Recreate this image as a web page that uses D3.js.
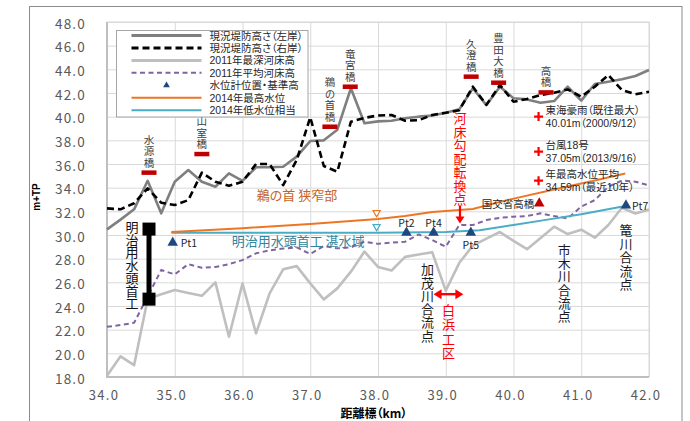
<!DOCTYPE html>
<html>
<head>
<meta charset="utf-8">
<script src="https://cdn.jsdelivr.net/npm/d3@7"></script>
<style>
  html, body { margin: 0; padding: 0; background: #fff; }
  svg { display: block; font-family: "Noto Sans CJK JP", "Noto Sans", sans-serif; font-feature-settings: "palt"; }
  .tight { font-family: "Liberation Sans", "Noto Sans CJK JP", sans-serif; }
</style>
</head>
<body>
<svg id="chart" width="690" height="421"></svg>
<script>
// ---- axis ticks ----
const xTicks = [34, 35, 36, 37, 38, 39, 40, 41, 42];
const yTicks = [18, 20, 22, 24, 26, 28, 30, 32, 34, 36, 38, 40, 42, 44, 46, 48];

// ---- longitudinal profile (distance marker, km) ----
const km = [34.0, 34.2, 34.4, 34.6, 34.8, 35.0, 35.2, 35.4, 35.6, 35.8,
            36.0, 36.2, 36.4, 36.6, 36.8, 37.0, 37.2, 37.4, 37.6, 37.8,
            38.0, 38.2, 38.4, 38.6, 38.8, 39.0, 39.2, 39.4, 39.6, 39.8,
            40.0, 40.2, 40.4, 40.6, 40.8, 41.0, 41.2, 41.4, 41.6, 41.8, 42.0];

// 現況堤防高さ（左岸）
const leftBank = [30.48, 31.30, 32.17, 34.58, 31.83, 34.50, 35.49, 34.50, 34.08, 35.21,
                  34.58, 35.72, 35.72, 35.77, 36.62, 37.94, 38.00, 38.90, 42.40, 39.44,
                  39.60, 39.66, 39.86, 40.00, 40.10, 40.33, 40.62, 42.40, 40.98, 42.53,
                  41.55, 41.46, 41.18, 41.32, 42.53, 41.35, 42.76, 42.95, 43.16, 43.44, 43.94];

// 現況堤防高さ（右岸）
const rightBank = [32.25, 32.17, 32.68, 33.94, 32.73, 32.53, 32.95, 35.27, 34.50, 34.16,
                   34.50, 36.00, 36.00, 34.22, 36.33, 39.95, 35.83, 35.35, 39.57, 39.90,
                   40.10, 40.14, 39.66, 39.70, 40.14, 40.33, 40.55, 42.53, 41.00, 42.67,
                   41.26, 41.50, 41.83, 42.03, 42.30, 41.69, 42.53, 43.52, 42.25, 41.89, 42.11];

// 2011年最深河床高
const deepestBed = [18.10, 19.75, 19.00, 24.60, 25.00, 25.35, 25.10, 24.86, 26.00, 21.40,
                    25.90, 21.68, 25.07, 27.10, 27.37, 25.91, 24.56, 25.49, 26.90, 28.60,
                    27.30, 27.00, 28.15, 28.35, 28.55, 25.30, 27.65, 29.10, 29.70, 30.25,
                    29.50, 28.80, 29.75, 30.70, 30.08, 30.45, 29.77, 30.85, 32.30, 31.82, 32.15];

// 2011年平均河床高
const meanBed = [22.24, 22.40, 22.58, 24.80, 27.04, 26.67, 27.54, 27.23, 27.30, 27.54,
                 27.88, 28.45, 28.70, 28.85, 28.95, 28.39, 29.07, 28.87, 28.95, 29.43,
                 29.25, 29.35, 29.43, 30.05, 29.57, 29.00, 30.84, 30.84, 31.26, 31.45,
                 31.55, 31.60, 31.83, 31.60, 31.40, 32.40, 32.95, 34.08, 34.60, 34.50, 34.20];

// 2014年最高水位
const highWaterKm = [34.95, 36.0, 37.0, 38.0, 38.4, 38.8, 39.4, 39.8, 40.1, 40.6, 41.2, 41.65];
const highWater   = [30.25, 30.58, 30.92, 31.35, 31.60, 31.95, 32.20, 32.80, 33.20, 33.85, 34.60, 35.20];

// 2014年低水位相当
const lowWaterKm = [34.95, 38.0, 39.0, 39.5, 40.0, 40.5, 41.0, 41.65];
const lowWater   = [30.20, 30.20, 30.25, 30.40, 30.85, 31.30, 31.75, 32.45];

// 水位計位置・基準高
const gaugeNames = ["Pt1", "Pt2", "Pt4", "Pt5", "Pt7"];
const gaugeKm    = [34.97, 38.42, 38.82, 39.37, 41.66];
const gaugeLevel = [29.35, 30.20, 30.20, 30.20, 32.50];

// 国交省 高橋 観測所
const mlitName = "国交省高橋";
const mlitKm = 40.38;
const mlitLevel = 32.67;

// 橋梁（桁下高さ）
const bridgeNames  = ["水源橋", "山室橋", "鵜の首橋", "竜宮橋", "久澄橋", "豊田大橋", "高橋"];
const bridgeKm     = [34.62, 35.40, 37.29, 37.59, 39.375, 39.78, 40.48];
const bridgeHeight = [35.27, 36.84, 39.15, 42.53, 43.38, 42.87, 42.05];

// 明治用水頭首工（天端・敷高）
const weirKm = 34.62;
const weirTop = 30.50;
const weirBottom = 24.58;

// 高橋地点の記録水位
const recordKm = 40.37;
const recordLevel  = [40.01, 37.05, 34.59];
const recordTitle  = ["東海豪雨（既往最大）", "台風18号", "年最高水位平均"];
const recordDetail = ["40.01m（2000/9/12）", "37.05m（2013/9/16）", "34.59m（最近10年）"];

// 断面位置の水位表示（▽）
const markKm = 37.98;
const markLevelHigh = 31.88;
const markLevelLow = 30.70;

// ---- layout ----
const svg = d3.select("#chart");
const plot = { left: 107, right: 649, top: 22, bottom: 377 };
const x = d3.scaleLinear().domain([34, 42]).range([plot.left, plot.right]);
const y = d3.scaleLinear().domain([18, 48]).range([plot.bottom, plot.top]);

const C = {
  left: "#7f7f7f", right: "#000000", deep: "#bfbfbf", mean: "#8064a2",
  gauge: "#1f497d", high: "#ee7623", low: "#4bacc6", bridge: "#c00000",
  red: "#ff0000", text: "#262626", tick: "#595959", grid: "#d9d9d9"
};

// outer chart frame
svg.append("rect")
  .attr("x", 29.5).attr("y", 6.5).attr("width", 652.5).attr("height", 440)
  .attr("fill", "#fff").attr("stroke", "#8c8c8c").attr("stroke-width", 1);

// gridlines
const grid = svg.append("g");
grid.append("g")
  .attr("transform", `translate(0,${plot.bottom})`)
  .call(d3.axisBottom(x).tickValues(xTicks).tickSize(-(plot.bottom - plot.top)).tickFormat(""))
  .call(g => g.select(".domain").remove())
  .selectAll("line").attr("stroke", C.grid);
grid.append("g")
  .attr("transform", `translate(${plot.left},0)`)
  .call(d3.axisLeft(y).tickValues(yTicks).tickSize(-(plot.right - plot.left)).tickFormat(""))
  .call(g => g.select(".domain").remove())
  .selectAll("line").attr("stroke", C.grid);

// plot border
svg.append("rect")
  .attr("x", plot.left).attr("y", plot.top)
  .attr("width", plot.right - plot.left).attr("height", plot.bottom - plot.top)
  .attr("fill", "none").attr("stroke", C.grid);
svg.append("path")
  .attr("d", `M${plot.left},${plot.top}V${plot.bottom}H${plot.right}`)
  .attr("fill", "none").attr("stroke", "#bfbfbf").attr("stroke-width", 2);

// axis labels
const fmt = d3.format(".1f");
const xAxis = svg.append("g")
  .attr("transform", `translate(0,${plot.bottom})`)
  .call(d3.axisBottom(x).tickValues(xTicks).tickSize(0).tickFormat(fmt));
xAxis.select(".domain").remove();
xAxis.selectAll("text")
  .attr("y", 17).attr("dy", null).attr("dx", -3.5)
  .attr("dominant-baseline", "central")
  .attr("font-size", 13).attr("fill", C.tick)
  .attr("font-family", '"Noto Sans CJK JP", sans-serif')
  .style("letter-spacing", "1.3px");

const yAxis = svg.append("g")
  .attr("transform", `translate(${plot.left},0)`)
  .call(d3.axisLeft(y).tickValues(yTicks).tickSize(0).tickFormat(fmt));
yAxis.select(".domain").remove();
yAxis.selectAll("text")
  .attr("x", -21).attr("dy", null)
  .attr("dominant-baseline", "central")
  .attr("font-size", 13.5).attr("fill", C.tick)
  .attr("font-family", '"Noto Sans CJK JP", sans-serif')
  .style("letter-spacing", "1.2px");

svg.append("text")
  .attr("transform", "translate(36,197) rotate(-90)")
  .attr("text-anchor", "middle").attr("dominant-baseline", "central")
  .attr("font-family", '"Liberation Sans", Arial, sans-serif')
  .attr("font-weight", "bold").attr("font-size", 10).attr("fill", "#000")
  .text("m+TP");

svg.append("text")
  .attr("x", (plot.left + plot.right) / 2 - 4).attr("y", 412.5)
  .attr("text-anchor", "middle").attr("dominant-baseline", "central")
  .attr("font-weight", "bold").attr("font-size", 12).attr("fill", "#000")
  .text("距離標（km）");

// ---- series lines ----
const profile = km.map((k, i) => ({ k, left: leftBank[i], right: rightBank[i], deep: deepestBed[i], mean: meanBed[i] }));
const lineOf = key => d3.line().x(d => x(d.k)).y(d => y(d[key]));
const series = svg.append("g").attr("fill", "none").attr("stroke-linejoin", "round");

series.append("path").datum(profile).attr("d", lineOf("deep"))
  .attr("stroke", C.deep).attr("stroke-width", 2.6);
series.append("path").datum(profile).attr("d", lineOf("mean"))
  .attr("stroke", C.mean).attr("stroke-width", 2).attr("stroke-dasharray", "5,3.5");

const high = highWaterKm.map((k, i) => ({ k, v: highWater[i] }));
const low = lowWaterKm.map((k, i) => ({ k, v: lowWater[i] }));
const simple = d3.line().x(d => x(d.k)).y(d => y(d.v));
series.append("path").datum(low).attr("d", simple).attr("stroke", C.low).attr("stroke-width", 2);
series.append("path").datum(high).attr("d", simple).attr("stroke", C.high).attr("stroke-width", 2);

series.append("path").datum(profile).attr("d", lineOf("left"))
  .attr("stroke", C.left).attr("stroke-width", 2.6);
series.append("path").datum(profile).attr("d", lineOf("right"))
  .attr("stroke", C.right).attr("stroke-width", 2.6).attr("stroke-dasharray", "7,4");

// ---- helpers ----
// vertical (top-to-bottom) label; cy0 is the centre of the first character
function vtext(str, cx, cy0, step, size, color) {
  return svg.append("text")
    .attr("x", cx).attr("y", cy0 - size / 2)
    .style("writing-mode", "vertical-rl")
    .style("letter-spacing", (step - size) + "px")
    .style("font-feature-settings", "normal")
    .attr("font-size", size).attr("fill", color)
    .text(str);
}
function htext(str, px, py, size, color, anchor) {
  return svg.append("text")
    .attr("x", px).attr("y", py)
    .attr("text-anchor", anchor || "start").attr("dominant-baseline", "central")
    .attr("font-size", size).attr("fill", color).text(str);
}

// ---- bridges ----
bridgeNames.forEach((name, i) => {
  const bx = x(bridgeKm[i]), by = y(bridgeHeight[i]);
  svg.append("line")
    .attr("x1", bx - 7.5).attr("x2", bx + 7.5).attr("y1", by).attr("y2", by)
    .attr("stroke", C.bridge).attr("stroke-width", 4.5);
  const n = Array.from(name).length;
  vtext(name, bx, by - 10 - (n - 1) * 11.5, 11.5, 10.5, "#404040");
});

// ---- weir (明治用水頭首工) ----
{
  const wx = x(weirKm), wt = y(weirTop), wb = y(weirBottom);
  svg.append("line").attr("x1", wx).attr("x2", wx).attr("y1", wt).attr("y2", wb)
    .attr("stroke", "#000").attr("stroke-width", 5);
  [wt, wb].forEach(v => svg.append("rect")
    .attr("x", wx - 6.5).attr("y", v - 6.5).attr("width", 13).attr("height", 13).attr("fill", "#000"));
}

// ---- open ▽ marks ----
const tri = d3.symbol().type(d3.symbolTriangle);
[[markLevelHigh, C.high], [markLevelLow, C.low]].forEach(([v, c]) => {
  svg.append("path").attr("d", tri.size(22)())
    .attr("transform", `translate(${x(markKm)},${y(v)}) rotate(180)`)
    .attr("fill", "#fff").attr("stroke", c).attr("stroke-width", 1.2);
});

// ---- gauges ----
const gaugeLabelOffset = [[8, 0, "start"], [0, -10.5, "middle"], [0, -10.5, "middle"], [0, 12, "middle"], [6, 0, "start"]];
gaugeNames.forEach((name, i) => {
  const gx = x(gaugeKm[i]), gy = y(gaugeLevel[i]);
  svg.append("path").attr("d", tri.size(48)()).attr("transform", `translate(${gx},${gy})`).attr("fill", C.gauge);
  const [dx, dy, anc] = gaugeLabelOffset[i];
  htext(name, gx + dx, gy + dy, 10.5, C.text, anc);
});

svg.append("path").attr("d", tri.size(48)())
  .attr("transform", `translate(${x(mlitKm)},${y(mlitLevel)})`).attr("fill", C.bridge);
htext(mlitName, x(mlitKm) - 5, y(mlitLevel), 10.5, C.text, "end");

// ---- flood records at 高橋 ----
recordLevel.forEach((v, i) => {
  const cx = x(recordKm), cy = y(v);
  svg.append("path").attr("d", `M${cx - 4.5},${cy}H${cx + 4.5}M${cx},${cy - 4.5}V${cy + 4.5}`)
    .attr("stroke", C.red).attr("stroke-width", 2.2);
  htext(recordTitle[i], cx + 7, cy - 6.7, 10.5, C.text).attr("class", "tight");
  htext(recordDetail[i], cx + 7, cy + 6.7, 10.5, C.text).attr("class", "tight");
});

// ---- area annotations ----
htext("鵜の首 狭窄部", x(36.21), y(33.42), 13, "#c5631f");
htext("明治用水頭首工 湛水域", x(35.84), y(29.57), 13, "#31859c");

vtext("明治用水頭首工", x(34.37), y(30.67), 12.7, 13, "#111");
vtext("加茂川合流点", x(38.73), y(27.1), 13.3, 13, "#1a1a1a");
vtext("市木川合流点", x(40.75), y(28.73), 13.2, 13, "#1a1a1a");
vtext("篭川合流点", x(41.66), y(30.38), 13.5, 13, "#1a1a1a");

// 河床勾配転換点 with downward pointer
{
  const px = x(39.21), tip = y(30.98);
  vtext("河床勾配転換点", px, y(39.86), 13.5, 13, C.red);
  svg.append("line").attr("x1", px).attr("x2", px).attr("y1", tip - 18).attr("y2", tip - 6)
    .attr("stroke", C.red).attr("stroke-width", 2.2);
  svg.append("path").attr("d", `M${px - 4.5},${tip - 7}L${px + 4.5},${tip - 7}L${px},${tip}Z`).attr("fill", C.red);
}

// 白浜工区 extent
{
  const x0 = x(38.82), x1 = x(39.26), ay = y(25.0);
  svg.append("line").attr("x1", x0 + 6).attr("x2", x1 - 6).attr("y1", ay).attr("y2", ay)
    .attr("stroke", C.red).attr("stroke-width", 2.4);
  svg.append("path").attr("d", `M${x0},${ay}L${x0 + 8},${ay - 5}L${x0 + 8},${ay + 5}Z`).attr("fill", C.red);
  svg.append("path").attr("d", `M${x1},${ay}L${x1 - 8},${ay - 5}L${x1 - 8},${ay + 5}Z`).attr("fill", C.red);
  vtext("白浜工区", x(39.04), y(23.66), 14.5, 13, C.red);
}

// ---- legend ----
{
  const lg = svg.append("g");
  lg.append("rect").attr("x", 116.5).attr("y", 30.5).attr("width", 191.5).attr("height", 86.5)
    .attr("fill", "#fff").attr("stroke", "#a6a6a6");
  const items = [
    { label: "現況堤防高さ（左岸）", type: "line", color: C.left, w: 3 },
    { label: "現況堤防高さ（右岸）", type: "line", color: C.right, w: 3, dash: "7,4" },
    { label: "2011年最深河床高", type: "line", color: C.deep, w: 3 },
    { label: "2011年平均河床高", type: "line", color: C.mean, w: 2, dash: "5,3.5" },
    { label: "水位計位置・基準高", type: "tri", color: C.gauge },
    { label: "2014年最高水位", type: "line", color: C.high, w: 2 },
    { label: "2014年低水位相当", type: "line", color: C.low, w: 2 }
  ];
  items.forEach((it, i) => {
    const ly = 35.5 + i * 12.45;
    if (it.type === "line") {
      lg.append("line").attr("x1", 131.5).attr("x2", 201.5).attr("y1", ly).attr("y2", ly)
        .attr("stroke", it.color).attr("stroke-width", it.w).attr("stroke-dasharray", it.dash || null);
    } else {
      lg.append("path").attr("d", tri.size(20)()).attr("transform", `translate(166.5,${ly})`).attr("fill", it.color);
    }
    lg.append("text").attr("class", "tight")
      .attr("x", 209.5).attr("y", ly).attr("dominant-baseline", "central")
      .attr("font-size", 10.5).attr("fill", C.text).text(it.label);
  });
}
</script>
</body>
</html>
